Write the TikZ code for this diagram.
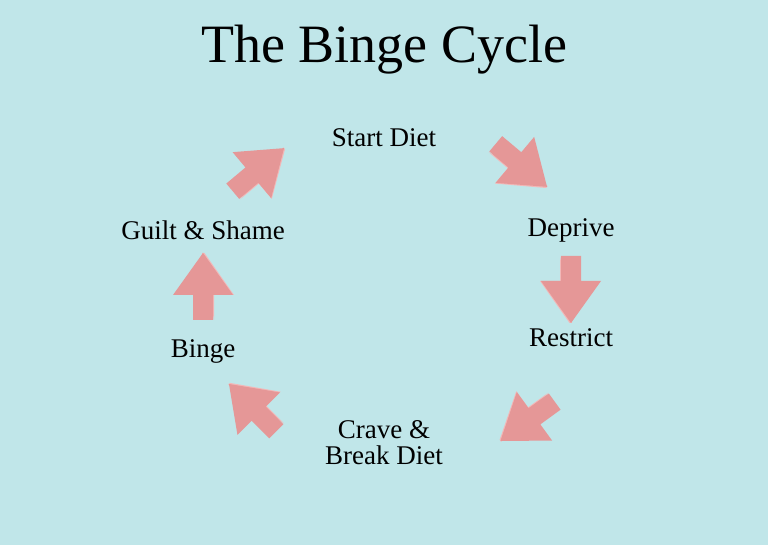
\documentclass[tikz,border=0pt]{standalone}
\usepackage{fontspec}
\setmainfont{Liberation Serif}
\definecolor{bg}{HTML}{C0E6E9}
\definecolor{arr}{HTML}{E59797}
\definecolor{arrside}{HTML}{F2B8B8}
\tikzset{
  lbl/.style={font=\fontsize{27}{30}\selectfont, text=black, align=center},
  pics/blockarrow/.style={code={
    \fill[arrside] (-33pt,-11pt) -- (-8pt,-11pt) -- (-8pt,-31pt) -- (34pt,-1.5pt) -- (34pt,1pt) -- cycle;
    \fill[arr] (-33pt,-10pt) -- (-8pt,-10pt) -- (-8pt,-30pt) -- (34pt,0) -- (-8pt,30pt) -- (-8pt,10pt) -- (-33pt,10pt) -- cycle;
  }}
}
\begin{document}
\begin{tikzpicture}[x=1pt,y=1pt]
\fill[bg] (0,0) rectangle (768,545);
\useasboundingbox (0,0) rectangle (768,545);
\node[font=\fontsize{54}{60}\selectfont] (title) at (384,495) {The Binge Cycle};
\node[lbl] (start) at (384,407) {Start Diet};
\node[lbl] (deprive) at (571,315) {Deprive};
\node[lbl] (restrict) at (571,207) {Restrict};
\node[lbl] (crave) at (384,102) {Crave \&\\[-4pt]Break Diet};
\node[lbl] (binge) at (203,194) {Binge};
\node[lbl] (guilt) at (203,315) {Guilt \& Shame};
\pic[rotate=-40] (a1) at (521,380) {blockarrow};
\pic[rotate=-90] (a2) at (571,256) {blockarrow};
\pic[rotate=216] (a3) at (528,124) {blockarrow};
\pic[rotate=135] (a4) at (253,137) {blockarrow};
\pic[rotate=90] (a5) at (203,258) {blockarrow};
\pic[rotate=40] (a6) at (258,375) {blockarrow};
\end{tikzpicture}
\end{document}
